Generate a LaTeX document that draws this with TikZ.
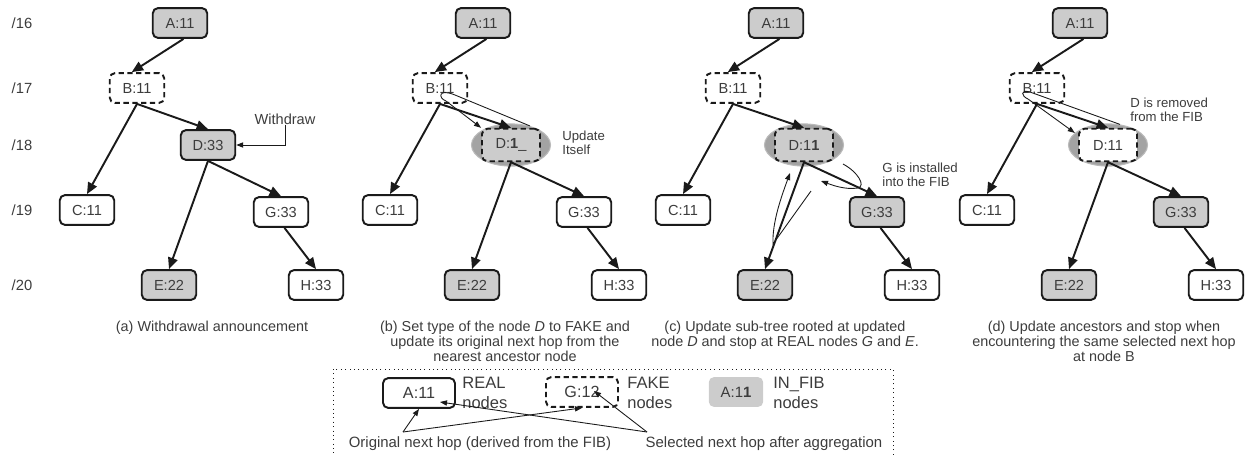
\documentclass[tikz,border=0pt]{standalone}
\usepackage{fontspec}
\setmainfont{Liberation Sans}
\usetikzlibrary{arrows.meta,shapes.geometric}
\definecolor{fibgray}{HTML}{CCCCCC}
\definecolor{ovalgray}{HTML}{A3A3A3}
\definecolor{ink}{HTML}{1A1A1A}
\newcommand{\nodefont}{\fontsize{8.3}{10}\selectfont}
\newcommand{\notefont}{\fontsize{7.5}{8.2}\selectfont}
\newcommand{\capfont}{\fontsize{8.2}{8.5}\selectfont}
\newcommand{\legfont}{\fontsize{9.4}{11.3}\selectfont}

\begin{document}
\begin{tikzpicture}[x=0.02cm, y=-0.02cm, ink,
  realbox/.style={draw=ink, line width=1.1pt, rounded corners=3pt, fill=white,
    minimum width=31pt, minimum height=17pt, inner sep=1pt, font=\nodefont, text=ink!85},
  fakebox/.style={realbox, dash pattern=on 3pt off 2pt},
  fibbox/.style={realbox, fill=fibgray},
  fakeD/.style={fakebox, minimum width=33pt, minimum height=18.5pt},
  fakefib/.style={fakeD, fill=fibgray},
  oval/.style={ellipse, fill=ovalgray, draw=ovalgray!75, line width=0.6pt,
    minimum width=45pt, minimum height=24pt},
  edge/.style={-{Triangle[length=6.5pt,width=5.5pt]}, line width=1.1pt},
  hint/.style={-{Triangle[length=4pt,width=3pt]}, line width=0.5pt},
  note/.style={font=\notefont, inner sep=0pt, text=ink!85},
  caption/.style={font=\capfont, align=center, anchor=north, inner sep=0pt, text=ink!85}]
\useasboundingbox (0,0) rectangle (1249,454);

% prefix levels
\foreach \lvl/\y in {16/23,17/88,18/145,19/210,20/285}
  \node[font=\fontsize{8.4}{10}\selectfont, text=ink!85] (r\lvl) at (22,\y) {/\lvl};

% ovals round the updated node D, drawn first
\foreach \dx in {303,596,900}
  \node[oval] (ov\dx) at (\dx+208,145) {};

% the same tree in all four panels
\foreach \p/\dx/\ds/\dt/\gs in {a/0/fibbox/D:33/realbox,
    b/303/fakefib/{D:\textbf{1}\_}/realbox,
    c/596/fakefib/{D:1\textbf{1}}/fibbox,
    d/900/fakeD/D:11/fibbox}{
  \begin{scope}[shift={(\dx,0)}]
    \node[fibbox] (\p A) at (180,23) {A:11};
    \node[fakebox] (\p B) at (137,88) {B:11};
    \node[\ds] (\p D) at (208,145) {\dt};
    \node[realbox] (\p C) at (87,210) {C:11};
    \node[\gs] (\p G) at (281,212) {G:33};
    \node[fibbox] (\p E) at (169,285) {E:22};
    \node[realbox] (\p H) at (316,285) {H:33};
    \draw[edge] ([xshift=2pt]\p A.south) -- ([xshift=-3pt]\p B.north);
    \draw[edge] (\p B.south) -- (\p C.north);
    \draw[edge] (\p B.south) -- (\p D.north);
    \draw[edge] (\p D.south) -- (\p E.north);
    \draw[edge] (\p D.south) -- (\p G.north);
    \draw[edge] ([xshift=2pt]\p G.south) -- (\p H.north);
  \end{scope}
}

% (a) withdrawal
\node[note, font=\nodefont] (wd) at (285,119) {Withdraw};
\draw[hint] (wd.south) |- (aD.east);

% (b) update itself
\node[note, anchor=west, align=left] (upd) at (562,143) {Update\\Itself};
\draw[hint] (ov303.45) -- (455,95) .. controls (438,88) and (438,98) .. (446,101) -- (bD.north west);

% (c) walk down the sub-tree
\node[note, anchor=west, align=left] (inst) at (882,175) {G is installed\\into the FIB};
\coordinate (cTop) at (843,164);
\coordinate (cBack) at (821,181);
\draw[hint] (cTop) .. controls (858,172) and (866,186) .. (858,188)
  .. controls (845,190) and (832,185) .. (cBack);
\coordinate (cUp) at (811,191);
\coordinate (cUpEnd) at (790,173);
\draw[hint] (cUp) -- (773,244) .. controls (772,222) and (782,195) .. (cUpEnd);

% (d) walk up to the ancestors
\node[note, anchor=west, align=left] (rem) at (1130,110) {D is removed\\from the FIB};
\draw[hint] (ov900.60) -- (1030,92) .. controls (1020,89) and (1021,96) .. (1028,99) -- (ov900.160);

% captions
\node[caption] (capA) at (212,321) {(a) Withdrawal announcement};
\node[caption] (capB) at (505,321) {(b) Set type of the node \textit{D} to FAKE and\\update its original next hop from the\\nearest ancestor node};
\node[caption] (capC) at (785,321) {(c) Update sub-tree rooted at updated\\node \textit{D} and stop at REAL nodes \textit{G} and \textit{E}.};
\node[caption] (capD) at (1104,321) {(d) Update ancestors and stop when\\encountering the same selected next hop\\at node B};

% legend
\draw[dotted, line width=0.5pt] (333,369) rectangle (893,470);
\node[realbox, minimum width=41pt, font=\fontsize{9.2}{11}\selectfont] (lgReal) at (419,393) {A:11};
\node[note, font=\legfont, anchor=west, align=left] (lgRealT) at (462,393) {REAL\\nodes};
\node[fakebox, minimum width=41pt, font=\fontsize{9.2}{11}\selectfont] (lgFake) at (582,392) {G:12};
\node[note, font=\legfont, anchor=west, align=left] (lgFakeT) at (627,393) {FAKE\\nodes};
\node[fill=fibgray, rounded corners=3pt, minimum width=31pt, minimum height=17pt,
  inner sep=1pt, font=\fontsize{8.5}{10}\selectfont, text=ink!85] (lgFib) at (736,392) {A:1\textbf{1}};
\node[note, font=\legfont, anchor=west, align=left] (lgFibT) at (773,393) {IN\_FIB\\nodes};
\node[note, font=\fontsize{8.5}{10}\selectfont] (lgOrig) at (480,444) {Original next hop (derived from the FIB)};
\node[note, font=\fontsize{8.5}{10}\selectfont] (lgSel) at (764,444) {Selected next hop after aggregation};
\coordinate (lgO) at (403,432);
\coordinate (lgS) at (647,432);
\draw[hint] (lgO) -- (lgReal.south);
\draw[hint] (lgO) -- (lgFake.south);
\draw[hint] (lgS) -- ([shift={(21,9)}]lgReal.center);
\draw[hint] (lgS) -- ([shift={(12,-1)}]lgFake.center);
\end{tikzpicture}
\end{document}
